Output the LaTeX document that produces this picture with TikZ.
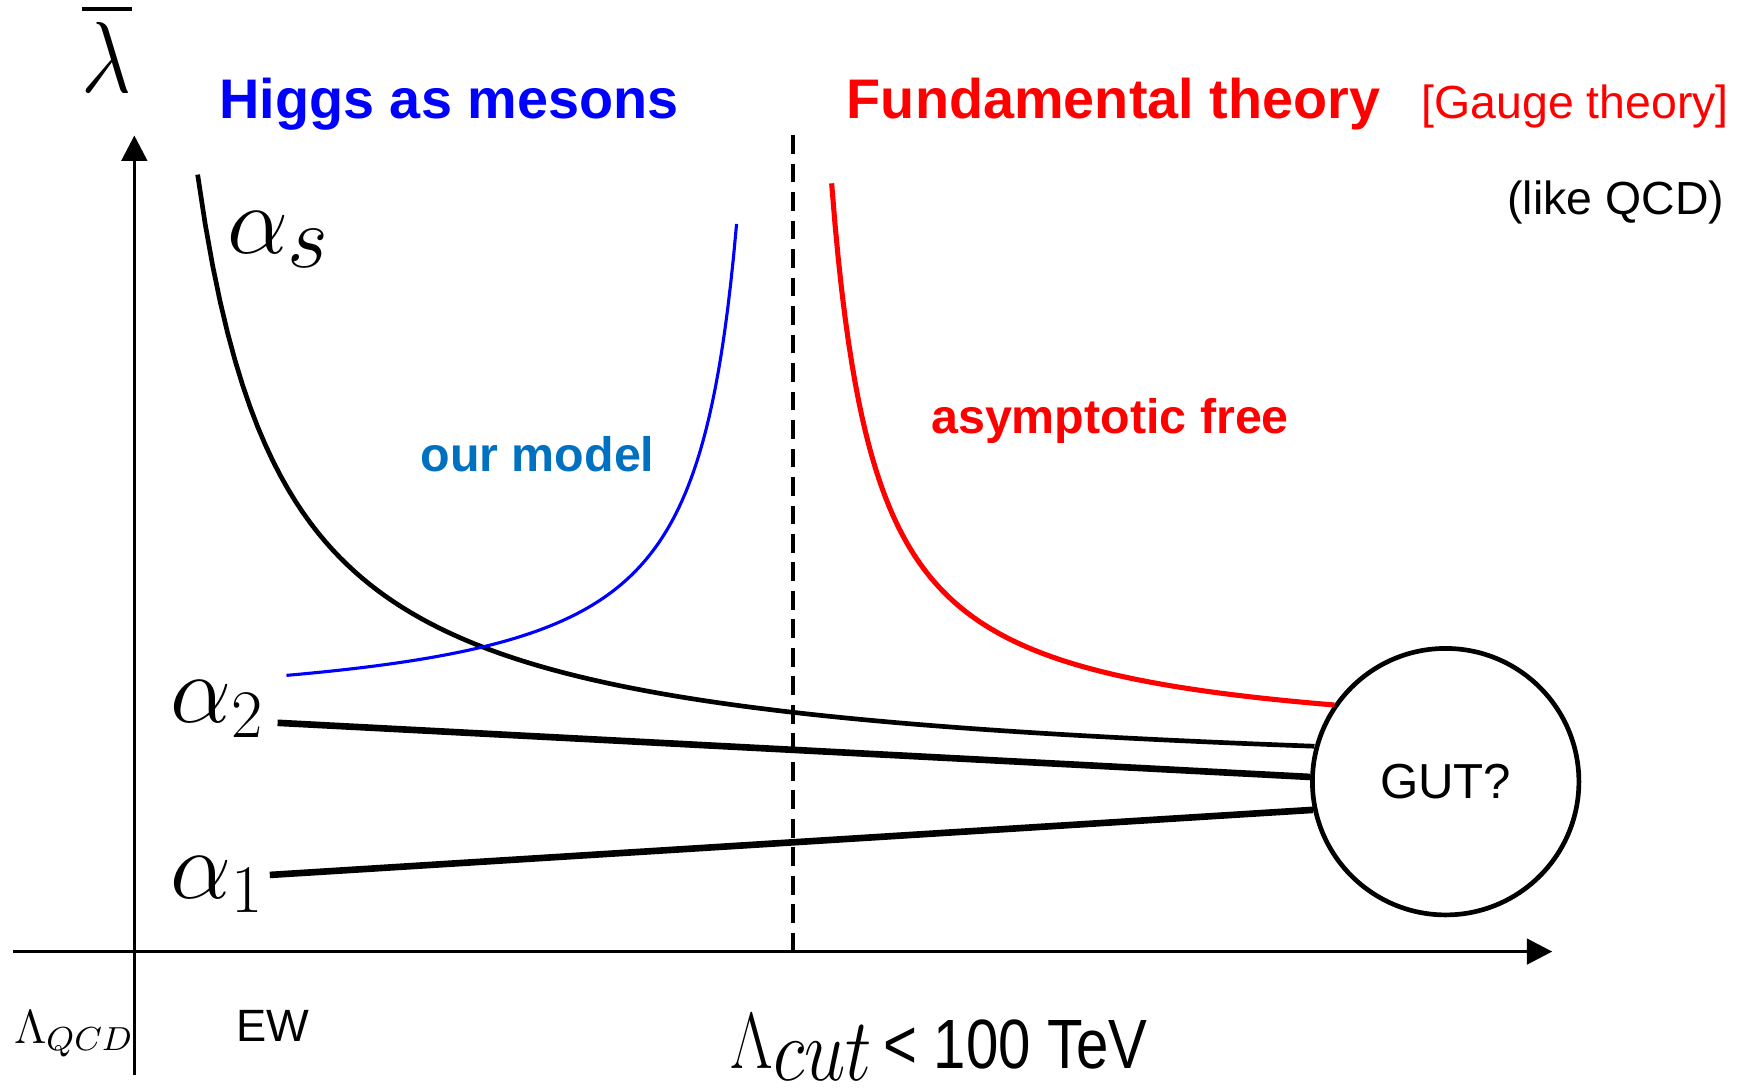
\RequirePackage{fix-cm}
\documentclass[tikz,border=0pt]{standalone}
\usepackage{fontspec}
\setsansfont{Liberation Sans}
\usepackage{amsmath}
\usetikzlibrary{arrows.meta, positioning}
\definecolor{myblue}{RGB}{0,0,255}
\definecolor{mymodel}{RGB}{0,112,192}
\definecolor{myred}{RGB}{255,0,0}
\tikzset{
  axis/.style={line width=0.9pt, -{Triangle[length=6.5pt,width=6.5pt]}},
  coupling/.style={line width=1.7pt},
  runcurve/.style={line width=1.2pt, samples=150},
  bigtitle/.style={font=\sffamily\bfseries\fontsize{14.3}{17}\selectfont, inner sep=0pt, anchor=base west},
  smalltext/.style={font=\sffamily\fontsize{11.9}{14}\selectfont, inner sep=0pt, anchor=base west},
  curvelabel/.style={font=\sffamily\bfseries\fontsize{12.4}{15}\selectfont, inner sep=0pt, anchor=base west},
  mathlbl/.style={font=\fontsize{24.9}{28}\selectfont, inner sep=0pt, anchor=base west}
}

\begin{document}
\begin{tikzpicture}[
  gutnode/.style={circle, draw, line width=1.2pt, minimum size=2.4cm, inner sep=0pt, font=\sffamily\fontsize{12.6}{15}\selectfont}
]
\useasboundingbox (0,0) rectangle (15.68,9.81);
% axes
\coordinate (xl) at (0.12,1.24);
\coordinate (xr) at (13.98,1.24);
\coordinate (yb) at (1.21,0.13);
\coordinate (yt) at (1.21,8.59);
\draw[axis] (xl) -- (xr);
\draw[axis] (yb) -- (yt);
% cut-off
\coordinate (cutb) at (7.14,1.24);
\coordinate (cutt) at (7.14,8.61);
\draw[line width=0.9pt, dash pattern=on 4.8pt off 2.5pt] (cutb) -- (cutt);

\node[gutnode] (gut) at (13.02,2.77) {GUT?};

% running couplings
\draw[runcurve, domain=1.78:11.84] plot (\x, {2.69+4.327/(\x-1.0)});
\draw[runcurve, line width=0.8pt, color=myblue, domain=2.58:6.635] plot (\x, {3.34+1.72/(7.02-\x)});
\draw[runcurve, line width=1.3pt, color=myred, domain=7.49:12.02] plot (\x, {3.056+1.99/(\x-7.1)});
\coordinate (a2l) at (2.50,3.30);
\coordinate (a1l) at (2.43,1.93);
\draw[coupling] (a2l) -- (gut.178);
\draw[coupling] (a1l) -- (gut.192);

% labels
\node[mathlbl, font=\fontsize{22.5}{26}\selectfont] (lam) at (0.73,8.98) {\scalebox{1}[1.15]{$\overline{\lambda}$}};
\node[mathlbl] (as) at (2.04,7.53) {$\alpha_{\scalebox{1.3}{$\scriptstyle s$}}$};
\node[mathlbl] (a2) at (1.53,3.30) {$\alpha_2$};
\node[mathlbl] (a1) at (1.53,1.72) {$\alpha_1$};
\node[bigtitle, text=myblue] (higgs) at (1.97,8.74) {Higgs as mesons};
\node[bigtitle, text=myred] (fund) at (7.62,8.74) {Fundamental theory};
\node[smalltext, text=myred, base right=0.36cm of fund] (gauge) {[Gauge theory]};
\node[smalltext] (qcd) at (13.57,7.88) {(like QCD)};
\node[curvelabel, text=mymodel] (model) at (3.78,5.56) {our model};
\node[curvelabel, text=myred] (asym) at (8.38,5.91) {asymptotic free};
\node[mathlbl, font=\fontsize{12.2}{15}\selectfont] (lqcd) at (0.12,0.41) {$\Lambda_{QCD}$};
\node[smalltext, anchor=base, font=\sffamily\fontsize{11.6}{14}\selectfont] (ew) at (2.46,0.43) {EW};
\node[mathlbl, font=\fontsize{17}{20}\selectfont] (lcut) at (6.575,0.19) {\scalebox{1}[1.2]{$\Lambda$\raisebox{-2.6pt}{\fontsize{19}{22}\selectfont$cut$}\hspace{3pt}{\sffamily\fontsize{14.9}{18}\selectfont< 100 TeV}}};
\end{tikzpicture}
\end{document}
